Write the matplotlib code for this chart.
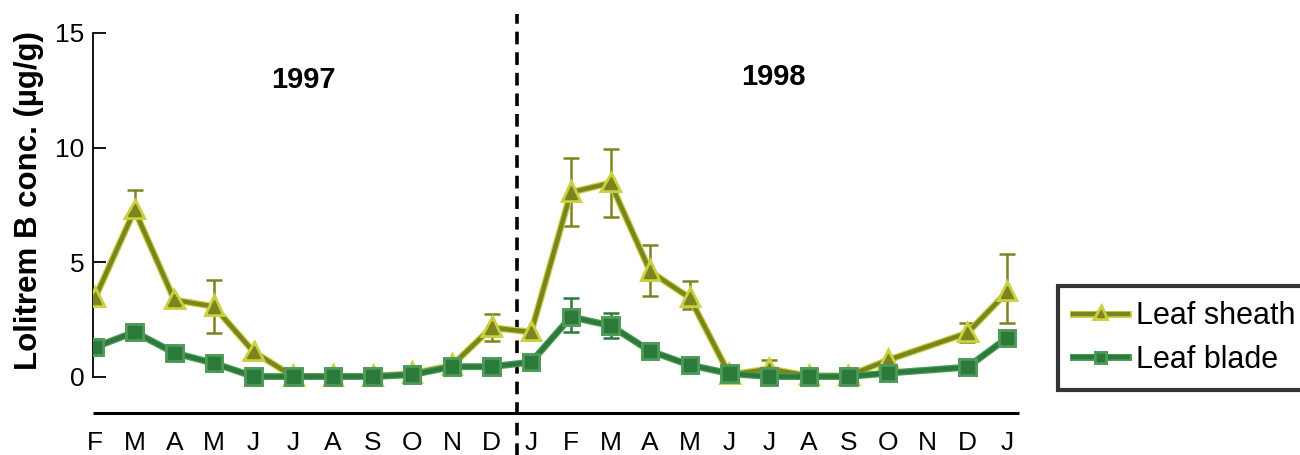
import numpy as np
import matplotlib
matplotlib.use("Agg")
import matplotlib.pyplot as plt
import matplotlib.patheffects as pe
from matplotlib import font_manager

# month axis: Feb 1997 .. Jan 1999
month_labels = ['F', 'M', 'A', 'M', 'J', 'J', 'A', 'S', 'O', 'N', 'D',
                'J', 'F', 'M', 'A', 'M', 'J', 'J', 'A', 'S', 'O', 'N', 'D', 'J']

# leaf sheath (no sample in Nov 1998)
sheath_x = [0, 1, 2, 3, 4, 5, 6, 7, 8, 9, 10,
            11, 12, 13, 14, 15, 16, 17, 18, 19, 20, 22, 23]
sheath_y = [3.44, 7.28, 3.36, 3.07, 1.10, 0.02, 0.02, 0.02, 0.15, 0.50, 2.15,
            1.96, 8.05, 8.46, 4.60, 3.45, 0.10, 0.35, 0.05, 0.05, 0.74, 1.92, 3.70]
sheath_err_lo = [0, 0.2, 0, 1.15, 0, 0, 0, 0, 0, 0, 0.6,
                 0, 1.45, 1.5, 1.05, 0.5, 0, 0, 0, 0, 0, 0.4, 1.35]
sheath_err_hi = [0, 0.87, 0, 1.15, 0, 0, 0, 0, 0, 0, 0.6,
                 0, 1.5, 1.5, 1.15, 0.75, 0, 0.4, 0, 0, 0, 0.45, 1.65]

# leaf blade
blade_x = sheath_x
blade_y = [1.30, 1.96, 1.05, 0.60, 0.02, 0.02, 0.02, 0.02, 0.10, 0.45, 0.45,
           0.65, 2.62, 2.24, 1.13, 0.52, 0.15, 0.02, 0.02, 0.02, 0.17, 0.43, 1.70]
blade_err_lo = [0, 0, 0, 0, 0, 0, 0, 0, 0, 0, 0,
                0, 0.66, 0.54, 0, 0, 0, 0, 0, 0, 0, 0, 0]
blade_err_hi = [0, 0, 0, 0, 0, 0, 0, 0, 0, 0, 0,
                0, 0.82, 0.55, 0, 0, 0, 0, 0, 0, 0, 0, 0]

year_labels = ['1997', '1998']

installed = {f.name for f in font_manager.fontManager.ttflist}
narrow = 'Liberation Sans Narrow' if 'Liberation Sans Narrow' in installed else 'Liberation Sans'
plt.rcParams['font.family'] = ['Liberation Sans', 'DejaVu Sans']

sheath_col = '#7c8420'
sheath_glow = '#c9d140'
blade_col = '#2b7a3a'
blade_glow = '#4f9a58'

fig = plt.figure(figsize=(13, 4.55), dpi=100)
W, H = 1300, 455
ax = fig.add_axes([93 / W, 1 - 420 / H, (1040 - 93) / W, 410 / H])
ax.set_xlim(-0.05, 23.83)
ax.set_ylim(-1.875, 16.0)


def draw_series(x, y, lo, hi, col, glow, marker, ms, z, label):
    x = np.array(x)
    y = np.array(y)
    lo = np.array(lo)
    hi = np.array(hi)
    m = (lo > 0) | (hi > 0)
    ax.errorbar(x[m], y[m], yerr=[lo[m], hi[m]], fmt='none', ecolor=col,
                elinewidth=1.8, capsize=6, capthick=1.8, zorder=z)
    line, = ax.plot(x, y, color=col, lw=3.2, marker=marker, ms=ms,
                    mfc=col, mec=col, zorder=z + 1, label=label)
    line.set_path_effects([pe.Stroke(linewidth=5, foreground=glow),
                           pe.Normal()])
    return line


draw_series(sheath_x, sheath_y, sheath_err_lo, sheath_err_hi,
            sheath_col, sheath_glow, '^', 9, 2, 'Leaf sheath')
draw_series(blade_x, blade_y, blade_err_lo, blade_err_hi,
            blade_col, blade_glow, 's', 9, 4, 'Leaf blade')

# axes styling
for s in ['top', 'right', 'bottom']:
    ax.spines[s].set_visible(False)
ax.spines['left'].set_bounds(0, 15)
ax.spines['left'].set_linewidth(1.3)
ax.set_yticks([0, 5, 10, 15])
ax.tick_params(axis='y', direction='in', length=9, width=1.3, pad=6,
               labelsize=19)
ax.set_xticks(range(len(month_labels)))
ax.set_xticklabels(month_labels, fontsize=19, family=narrow)
ax.tick_params(axis='x', length=0, pad=8)

# baseline under the plot
ax.hlines(-1.57, -0.05, 23.3, color='black', lw=2.2, clip_on=False)

# year separator
ax.axvline(10.64, ymin=-0.09, ymax=0.99, color='black', lw=2.6,
           ls=(0, (3.5, 2.2)), clip_on=False)

ax.text(5.25, 12.95, year_labels[0], fontsize=21, fontweight='bold',
        ha='center', va='center')
ax.text(17.1, 13.1, year_labels[1], fontsize=21, fontweight='bold',
        ha='center', va='center')

ax.set_ylabel('Lolitrem B conc. (µg/g)', fontsize=22.5, fontweight='bold')
ax.yaxis.set_label_coords(-0.052, 0.536)

leg = fig.legend(loc='upper left', bbox_to_anchor=(1058 / W, 1 - 286 / H),
                 borderaxespad=0, fontsize=22, frameon=True, fancybox=False,
                 handlelength=1.8, handletextpad=0.25, borderpad=0.5,
                 labelspacing=0.45, markerscale=0.55)
leg.get_frame().set_edgecolor('black')
leg.get_frame().set_linewidth(3)

fig.savefig('out.png', dpi=100)
